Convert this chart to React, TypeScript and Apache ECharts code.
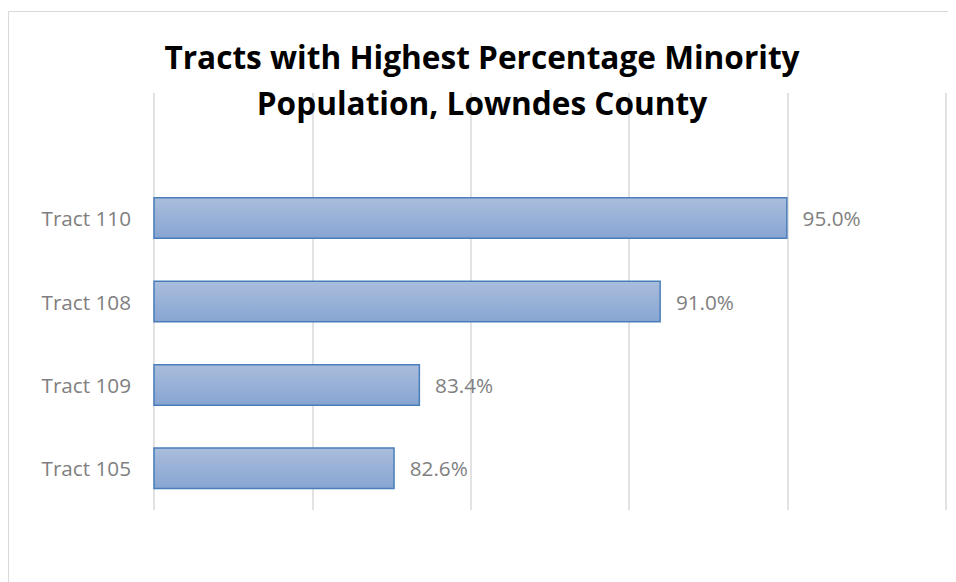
import React, { useEffect, useRef } from "react";
import * as echarts from "echarts";

const categories = ["Tract 110", "Tract 108", "Tract 109", "Tract 105"];
const values = [95.0, 91.0, 83.4, 82.6];
const titleLines = ["Tracts with Highest Percentage Minority", "Population, Lowndes County"];
const axisMin = 75;
const axisMax = 100;
const axisInterval = 5;

export default function App() {
  const ref = useRef<HTMLDivElement>(null);
  useEffect(() => {
    if (!ref.current) return;
    const chart = echarts.init(ref.current, null, { renderer: "svg" });
    const font = "'Open Sans', 'Noto Sans', sans-serif";
    chart.setOption({
      animation: false,
      backgroundColor: "#ffffff",
      title: {
        text: titleLines.join("\n"),
        left: "center",
        top: 20,
        textStyle: {
          fontFamily: font,
          fontSize: 31.6,
          fontWeight: "bold",
          color: "#000000",
          lineHeight: 46,
        },
      },
      graphic: [
        { type: "line", shape: { x1: 0.5, y1: 3.5, x2: 948, y2: 3.5 }, style: { stroke: "#d9d9d9", lineWidth: 1 } },
        { type: "line", shape: { x1: 0.5, y1: 3.5, x2: 0.5, y2: 574 }, style: { stroke: "#d9d9d9", lineWidth: 1 } },
      ],
      grid: { left: 146, right: 10, top: 85, bottom: 72, containLabel: false },
      xAxis: {
        type: "value",
        min: axisMin,
        max: axisMax,
        interval: axisInterval,
        axisLabel: { show: false },
        axisLine: { show: false },
        axisTick: { show: false },
        splitLine: { show: true, lineStyle: { color: "#d9d9d9", width: 1.5 } },
      },
      yAxis: {
        type: "category",
        inverse: true,
        data: ["", ...categories],
        axisLine: { show: false },
        axisTick: { show: false },
        axisLabel: { fontFamily: font, fontSize: 20.7, color: "#7f7f7f", margin: 23 },
      },
      series: [
        {
          type: "bar",
          data: [null, ...values],
          barWidth: 42,
          itemStyle: {
            color: new echarts.graphic.LinearGradient(0, 0, 0, 1, [
              { offset: 0, color: "#aabddc" },
              { offset: 1, color: "#87a5d2" },
            ]),
            borderColor: "#4a7ebb",
            borderWidth: 1.5,
          },
          label: {
            show: true,
            position: "right",
            distance: 15,
            fontFamily: font,
            fontSize: 20.7,
            color: "#7f7f7f",
            formatter: (p: any) => (p.value == null ? "" : `${Number(p.value).toFixed(1)}%`),
          },
        },
      ],
    });
    return () => chart.dispose();
  }, []);
  return <div ref={ref} style={{ width: 948, height: 574 }} />;
}
